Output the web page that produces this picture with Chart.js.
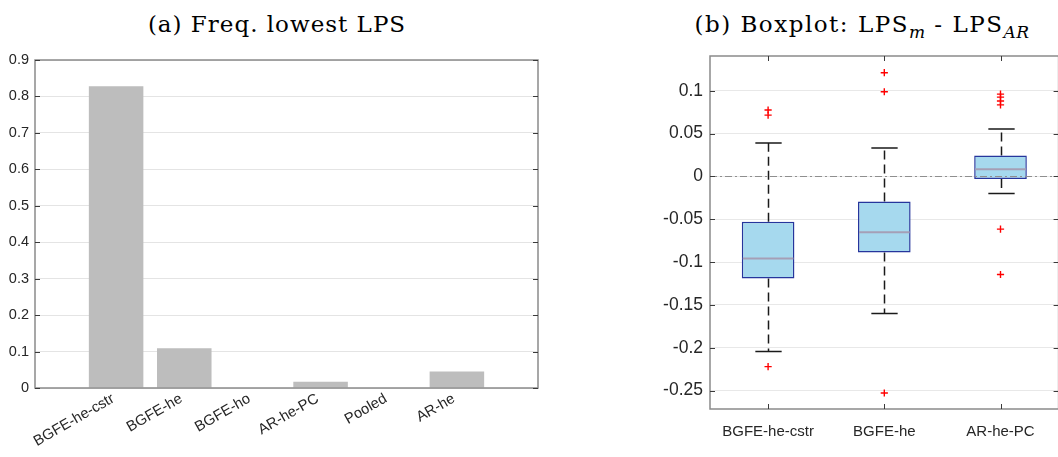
<!DOCTYPE html>
<html><head><meta charset="utf-8">
<script src="https://cdn.jsdelivr.net/npm/chart.js@4.4.1/dist/chart.umd.min.js"></script>
<style>
html,body{margin:0;padding:0;background:#fff;overflow:hidden;width:1058px;height:457px;position:relative;}
#ca{position:absolute;left:0;top:0;}
#cb{position:absolute;left:640px;top:0;}
.title{position:absolute;top:10px;font-family:'DejaVu Serif',serif;font-size:23px;letter-spacing:1px;line-height:28px;color:#000;white-space:nowrap;transform:translateX(-50%);}
#tb{letter-spacing:1.5px;}
.title sub{font-size:17px;vertical-align:-6px;line-height:0;letter-spacing:0.5px;}
</style></head><body>
<div class="title" id="ta" style="left:277px">(a) Freq. lowest LPS</div>
<div class="title" id="tb" style="left:862px">(b) Boxplot: LPS<sub><i>m</i></sub> - LPS<sub><i>AR</i></sub></div>
<canvas id="ca" width="545" height="457"></canvas>
<canvas id="cb" width="424" height="457"></canvas>
<script>
// ---- Panel (a) data ----
const categoriesA = ['BGFE-he-cstr','BGFE-he','BGFE-ho','AR-he-PC','Pooled','AR-he'];
const freqLowestLPS = [0.828, 0.109, 0, 0.0172, 0, 0.0453];
const yTicksA = [0, 0.1, 0.2, 0.3, 0.4, 0.5, 0.6, 0.7, 0.8, 0.9];
const yTickLabelsA = ['0','0.1','0.2','0.3','0.4','0.5','0.6','0.7','0.8','0.9'];

// ---- Panel (b) data ----
const categoriesB = ['BGFE-he-cstr','BGFE-he','AR-he-PC'];
const whiskerLow  = [-0.2044, -0.1600, -0.0199];
const q1          = [-0.1192, -0.0888, -0.0032];
const median      = [-0.0958, -0.0651,  0.0082];
const q3          = [-0.0530, -0.0292,  0.0245];
const whiskerHigh = [ 0.0389,  0.0331,  0.0553];
const outliersCstr = [0.0775, 0.0715, -0.2220];
const outliersHe   = [0.1210, 0.0988, -0.2528];
const outliersPC   = [0.0960, 0.0925, 0.0880, 0.0835, -0.0616, -0.1145];
const yTicksB = [-0.25, -0.2, -0.15, -0.1, -0.05, 0, 0.05, 0.1];
const yTickLabelsB = ['-0.25','-0.2','-0.15','-0.1','-0.05','0','0.05','0.1'];

const txt = '#262626';
const sans = "'Liberation Sans', Arial, Helvetica, sans-serif";

const frame = {
  id: 'frame',
  afterDatasetsDraw(chart, args, o) {
    const {ctx, chartArea: a, scales} = chart;
    ctx.save();
    ctx.strokeStyle = o.color; ctx.lineWidth = o.width;
    ctx.strokeRect(a.left, a.top, a.right - a.left, a.bottom - a.top);
    ctx.beginPath();
    ctx.strokeStyle = o.tickColor; ctx.lineWidth = 1;
    scales.y.ticks.forEach(t => {
      const py = Math.round(scales.y.getPixelForValue(t.value)) + 0.5;
      ctx.moveTo(a.left, py); ctx.lineTo(a.left + 5, py);
      ctx.moveTo(a.right, py); ctx.lineTo(a.right - 5, py);
    });
    if (o.xTicks) {
      scales.x.ticks.forEach(t => {
        const px = Math.round(scales.x.getPixelForValue(t.value)) + 0.5;
        ctx.moveTo(px, a.bottom); ctx.lineTo(px, a.bottom - 5);
        ctx.moveTo(px, a.top); ctx.lineTo(px, a.top + 5);
      });
    }
    ctx.stroke();
    ctx.restore();
  }
};

new Chart(document.getElementById('ca'), {
  type: 'bar',
  data: { datasets: [{
    data: categoriesA.map((c, i) => ({x: i + 1, y: freqLowestLPS[i]})),
    backgroundColor: '#bdbdbd', borderWidth: 0,
    barPercentage: 0.8, categoryPercentage: 1
  }]},
  options: {
    responsive: false, animation: false, devicePixelRatio: 1,
    layout: {padding: {top: 60, right: 7, left: 0, bottom: 0}},
    plugins: {legend: {display: false}, tooltip: {enabled: false},
      frame: {color: '#8a8a8a', width: 1.5, tickColor: '#3a3a3a', xTicks: false}},
    scales: {
      x: {
        type: 'linear', min: -0.19, max: 7.19, offset: false,
        grid: {display: false}, border: {display: false},
        afterBuildTicks: s => { s.ticks = categoriesA.map((c, i) => ({value: i + 1})); },
        afterFit: s => { s.height = 69; s.paddingLeft = 0; s.paddingRight = 0; },
        ticks: {callback: v => categoriesA[Math.round(v) - 1], minRotation: 30, maxRotation: 30,
          autoSkip: false, padding: -6, labelOffset: -3, color: txt, font: {family: sans, size: 14.75}}
      },
      y: {
        min: 0, max: 0.9,
        afterBuildTicks: s => { s.ticks = yTicksA.map(v => ({value: v})); },
        afterFit: s => { s.width = 35; },
        grid: {color: '#e4e4e4', drawTicks: false}, border: {display: false},
        ticks: {callback: (v, i) => yTickLabelsA[i], padding: 6, color: txt, font: {family: sans, size: 14.5}}
      }
    }
  },
  plugins: [frame]
});

const boxParts = {
  id: 'boxParts',
  beforeDatasetsDraw(chart) {
    const {ctx, scales: {x, y}} = chart;
    const meta = chart.getDatasetMeta(0);
    ctx.save();
    ctx.strokeStyle = '#1a1a1a'; ctx.lineWidth = 1.5;
    categoriesB.forEach((c, i) => {
      const px = Math.round(x.getPixelForValue(i + 1)) + 0.5;
      const half = meta.data[i].width / 4;
      ctx.setLineDash([9, 5]);
      ctx.beginPath();
      ctx.moveTo(px, y.getPixelForValue(q3[i])); ctx.lineTo(px, y.getPixelForValue(whiskerHigh[i]));
      ctx.moveTo(px, y.getPixelForValue(q1[i])); ctx.lineTo(px, y.getPixelForValue(whiskerLow[i]));
      ctx.stroke();
      ctx.setLineDash([]);
      ctx.beginPath();
      const yh = y.getPixelForValue(whiskerHigh[i]), yl = y.getPixelForValue(whiskerLow[i]);
      ctx.moveTo(px - half, yh); ctx.lineTo(px + half, yh);
      ctx.moveTo(px - half, yl); ctx.lineTo(px + half, yl);
      ctx.stroke();
    });
    ctx.restore();
  },
  afterDatasetsDraw(chart) {
    const {ctx, chartArea: a, scales: {x, y}} = chart;
    const meta = chart.getDatasetMeta(0);
    ctx.save();
    ctx.strokeStyle = '#a59fb6'; ctx.lineWidth = 2;
    categoriesB.forEach((c, i) => {
      const el = meta.data[i];
      const py = y.getPixelForValue(median[i]);
      ctx.beginPath();
      ctx.moveTo(el.x - el.width / 2 + 1, py); ctx.lineTo(el.x + el.width / 2 - 1, py);
      ctx.stroke();
    });
    const y0 = Math.round(y.getPixelForValue(0)) + 0.5;
    ctx.strokeStyle = '#8f8f8f'; ctx.lineWidth = 1;
    ctx.setLineDash([7, 3, 2, 3]);
    ctx.beginPath(); ctx.moveTo(a.left, y0); ctx.lineTo(a.right, y0); ctx.stroke();
    ctx.restore();
  }
};

const outlierPoints = [
  ...outliersCstr.map(v => ({x: 1, y: v})),
  ...outliersHe.map(v => ({x: 2, y: v})),
  ...outliersPC.map(v => ({x: 3, y: v}))
];

new Chart(document.getElementById('cb'), {
  type: 'bar',
  data: { datasets: [
    {type: 'bar', data: categoriesB.map((c, i) => ({x: i + 1, y: [q1[i], q3[i]]})),
     backgroundColor: '#a6d9ee', borderColor: '#26359c', borderWidth: 1.5, borderSkipped: false,
     barPercentage: 0.453, categoryPercentage: 1, order: 2},
    {type: 'scatter', data: outlierPoints, pointStyle: 'cross', pointRadius: 3.6,
     borderColor: '#ff0000', backgroundColor: '#ff0000', pointBorderWidth: 1.4, order: 1}
  ]},
  options: {
    responsive: false, animation: false, devicePixelRatio: 1,
    layout: {padding: {top: 56, right: 0, left: 0, bottom: 0}},
    plugins: {legend: {display: false}, tooltip: {enabled: false},
      frame: {color: '#8a8a8a', width: 1.5, tickColor: '#3a3a3a', xTicks: true}},
    scales: {
      x: {
        type: 'linear', min: 0.5, max: 3.5, offset: false,
        grid: {display: false}, border: {display: false},
        afterBuildTicks: s => { s.ticks = categoriesB.map((c, i) => ({value: i + 1})); },
        afterFit: s => { s.height = 48; s.paddingLeft = 0; s.paddingRight = 0; },
        ticks: {callback: v => categoriesB[Math.round(v) - 1], maxRotation: 0, minRotation: 0,
          autoSkip: false, padding: 6, color: txt, font: {family: sans, size: 15}}
      },
      y: {
        min: -0.2715, max: 0.1405,
        afterBuildTicks: s => { s.ticks = yTicksB.map(v => ({value: v})); },
        afterFit: s => { s.width = 70; },
        grid: {color: '#e8e8e8', drawTicks: false}, border: {display: false},
        ticks: {callback: (v, i) => yTickLabelsB[i], padding: 7, color: txt, font: {family: sans, size: 17.5}}
      }
    }
  },
  plugins: [boxParts, frame]
});
</script>
</body></html>
